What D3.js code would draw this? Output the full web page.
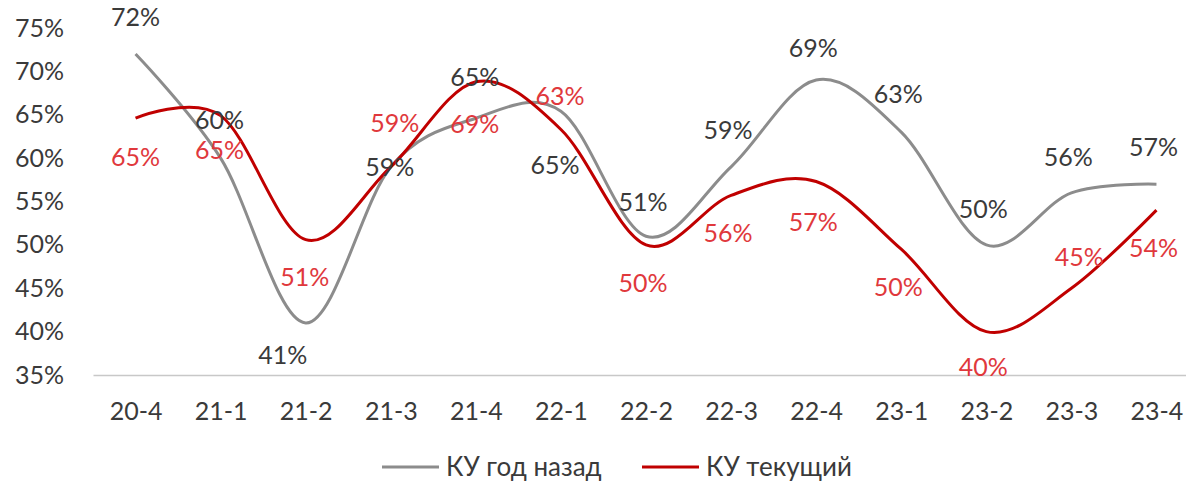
<!DOCTYPE html>
<html>
<head>
<meta charset="utf-8">
<script src="https://cdn.jsdelivr.net/npm/d3@7/dist/d3.min.js"></script>
<style>
  html, body { margin: 0; padding: 0; background: #fff; }
  svg { display: block; font-family: Lato, "Liberation Sans", sans-serif; }
</style>
</head>
<body>
<svg id="chart" width="1186" height="485"></svg>
<script>
// ---- data ----
const categories = ["20-4","21-1","21-2","21-3","21-4","22-1","22-2","22-3","22-4","23-1","23-2","23-3","23-4"];
const seriesNames = ["КУ год назад", "КУ текущий"];
const yearAgo = [72, 60, 41, 59, 64.6, 65.4, 51, 59, 69, 63, 50, 56, 57];
const current = [64.6, 64.9, 50.6, 59, 68.8, 63.3, 50, 55.7, 57.3, 49.5, 40, 45, 54];
const yearAgoLabels = ["72%","60%","41%","59%","65%","65%","51%","59%","69%","63%","50%","56%","57%"];
const currentLabels = ["65%","65%","51%","59%","69%","63%","50%","56%","57%","50%","40%","45%","54%"];
const yTicks = [35, 40, 45, 50, 55, 60, 65, 70, 75];

// ---- label placement (layout only) ----
const yearAgoLabelOffset = [[0,-37],[-1,-38],[-23,32],[-1,0],[-1,-41],[-6,54],[-3,-34],[-3,-37],[-3,-32],[-3,-38],[-3,-36],[-3,-36],[-3,-37]];
const currentLabelOffset = [[0,39],[-1,35],[-1,38],[4,-44],[-1,42],[-1,-33],[-3,38],[-3,38],[-3,41],[-3,38],[-3,36],[8,-31],[-3,38]];

const colors = { yearAgo: "#8c8c8c", current: "#c00000", yearAgoText: "#3a3a3a", currentText: "#e0383c", axisText: "#3a3a3a", axisLine: "#c8c8c8" };

const svg = d3.select("#chart");
const x = d3.scalePoint().domain(categories).range([93, 1199]).padding(0.5);
const y = d3.scaleLinear().domain([35, 75]).range([375, 28]);

// y axis
const yAxis = svg.append("g").attr("transform", "translate(64,0)")
  .call(d3.axisLeft(y).tickValues(yTicks).tickSize(0).tickPadding(0).tickFormat(d => d + "%"));
yAxis.select(".domain").remove();
yAxis.selectAll("text").attr("font-size", 25).attr("fill", colors.axisText)
  .attr("font-family", "Lato, 'Liberation Sans', sans-serif");

// x axis
const xAxis = svg.append("g").attr("transform", `translate(0,${y(35)})`)
  .call(d3.axisBottom(x).tickSize(0).tickSizeOuter(0));
xAxis.select(".domain").attr("stroke", colors.axisLine).attr("stroke-width", 1.5);
xAxis.selectAll("text").attr("font-size", 25).attr("fill", colors.axisText)
  .attr("y", 36).attr("dy", "0.35em")
  .attr("font-family", "Lato, 'Liberation Sans', sans-serif");

// lines
const line = d3.line().x((d, i) => x(categories[i])).y(d => y(d)).curve(d3.curveCardinal.tension(0));
svg.append("path").datum(yearAgo).attr("d", line).attr("fill", "none")
  .attr("stroke", colors.yearAgo).attr("stroke-width", 3);
svg.append("path").datum(current).attr("d", line).attr("fill", "none")
  .attr("stroke", colors.current).attr("stroke-width", 3);

// data labels
function labels(values, texts, offsets, color) {
  svg.append("g").selectAll("text").data(values).join("text")
    .attr("x", (d, i) => x(categories[i]) + offsets[i][0])
    .attr("y", (d, i) => y(d) + offsets[i][1])
    .attr("dy", "0.35em")
    .attr("text-anchor", "middle")
    .attr("font-size", 25)
    .attr("fill", color)
    .text((d, i) => texts[i]);
}
labels(yearAgo, yearAgoLabels, yearAgoLabelOffset, colors.yearAgoText);
labels(current, currentLabels, currentLabelOffset, colors.currentText);

// legend
const legend = svg.append("g").attr("transform", "translate(0,467)");
const legendItems = [
  { name: seriesNames[0], color: colors.yearAgo, x: 382 },
  { name: seriesNames[1], color: colors.current, x: 642 }
];
legendItems.forEach(it => {
  legend.append("line").attr("x1", it.x).attr("x2", it.x + 57).attr("y1", 0).attr("y2", 0)
    .attr("stroke", it.color).attr("stroke-width", 3);
  legend.append("text").attr("x", it.x + 64).attr("y", 0).attr("dy", "0.35em")
    .attr("font-size", 26).attr("fill", colors.axisText).text(it.name);
});
</script>
</body>
</html>
